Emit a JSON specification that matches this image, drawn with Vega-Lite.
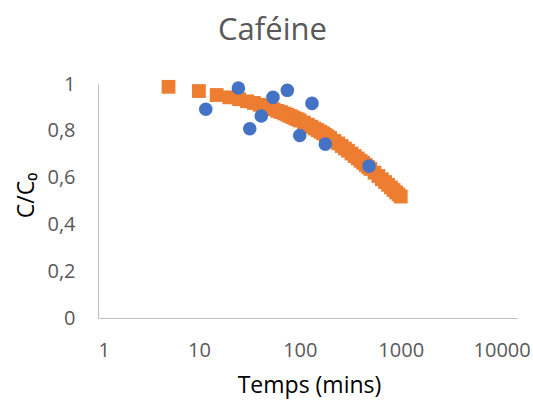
{
  "$schema": "https://vega.github.io/schema/vega-lite/v6.json",
  "width": 419,
  "height": 234,
  "autosize": "none",
  "padding": {"left": 98, "top": 84, "right": 16, "bottom": 87},
  "background": "white",
  "config": {
    "view": {"stroke": null},
    "font": "Open Sans",
    "axis": {
      "grid": false,
      "ticks": false,
      "domainColor": "#BFBFBF",
      "domainWidth": 1,
      "labelColor": "#595959",
      "labelFont": "Open Sans",
      "labelFontSize": 20,
      "titleColor": "#000000",
      "titleFont": "Open Sans",
      "titleFontSize": 23,
      "titleFontWeight": "normal"
    }
  },
  "title": {
    "text": "Caféine",
    "font": "Open Sans",
    "fontSize": 31,
    "fontWeight": "normal",
    "color": "#595959",
    "anchor": "middle",
    "frame": "group",
    "dx": -35,
    "baseline": "alphabetic",
    "offset": 3
  },
  "datasets": {
    "model": [
      {"t": 5, "c": 0.988},
      {"t": 10, "c": 0.970},
      {"t": 15, "c": 0.953},
      {"t": 20, "c": 0.943},
      {"t": 25, "c": 0.935},
      {"t": 30, "c": 0.926},
      {"t": 35, "c": 0.919},
      {"t": 40, "c": 0.911},
      {"t": 45, "c": 0.904},
      {"t": 50, "c": 0.898},
      {"t": 55, "c": 0.892},
      {"t": 60, "c": 0.885},
      {"t": 65, "c": 0.880},
      {"t": 70, "c": 0.874},
      {"t": 75, "c": 0.869},
      {"t": 80, "c": 0.863},
      {"t": 85, "c": 0.858},
      {"t": 90, "c": 0.853},
      {"t": 95, "c": 0.849},
      {"t": 100, "c": 0.844},
      {"t": 110, "c": 0.835},
      {"t": 120, "c": 0.826},
      {"t": 130, "c": 0.818},
      {"t": 140, "c": 0.810},
      {"t": 150, "c": 0.803},
      {"t": 160, "c": 0.796},
      {"t": 170, "c": 0.789},
      {"t": 180, "c": 0.782},
      {"t": 190, "c": 0.775},
      {"t": 200, "c": 0.769},
      {"t": 220, "c": 0.757},
      {"t": 240, "c": 0.746},
      {"t": 260, "c": 0.735},
      {"t": 280, "c": 0.724},
      {"t": 300, "c": 0.715},
      {"t": 325, "c": 0.703},
      {"t": 350, "c": 0.692},
      {"t": 375, "c": 0.682},
      {"t": 400, "c": 0.672},
      {"t": 425, "c": 0.663},
      {"t": 450, "c": 0.654},
      {"t": 475, "c": 0.645},
      {"t": 500, "c": 0.637},
      {"t": 550, "c": 0.621},
      {"t": 600, "c": 0.607},
      {"t": 650, "c": 0.593},
      {"t": 700, "c": 0.581},
      {"t": 750, "c": 0.569},
      {"t": 800, "c": 0.558},
      {"t": 850, "c": 0.547},
      {"t": 900, "c": 0.537},
      {"t": 950, "c": 0.528},
      {"t": 1000, "c": 0.519}
    ],
    "obs": [
      {"t": 11.7, "c": 0.892},
      {"t": 24.6, "c": 0.983},
      {"t": 31.9, "c": 0.809},
      {"t": 41.5, "c": 0.863},
      {"t": 54.2, "c": 0.943},
      {"t": 75.2, "c": 0.973},
      {"t": 99.8, "c": 0.780},
      {"t": 132, "c": 0.917},
      {"t": 179, "c": 0.743},
      {"t": 485, "c": 0.649}
    ]
  },
  "layer": [
    {
      "data": {"name": "model"},
      "mark": {"type": "point", "shape": "square", "filled": true, "size": 190, "color": "#ED7D31", "opacity": 1},
      "encoding": {
        "x": {
          "field": "t", "type": "quantitative",
          "scale": {"type": "log", "domain": [1, 14200], "nice": false},
          "axis": {
            "values": [1, 10, 100, 1000, 10000],
            "format": "d",
            "labelPadding": 22,
            "labelBaseline": "top",
            "title": "Temps (mins)",
            "titleBaseline": "alphabetic",
            "titleY": 74,
            "titleX": 211,
            "titleAnchor": "middle"
          }
        },
        "y": {
          "field": "c", "type": "quantitative",
          "scale": {"domain": [0, 1], "nice": false},
          "axis": {
            "values": [0, 0.2, 0.4, 0.6, 0.8, 1],
            "labelExpr": "replace(format(datum.value, '.1~f'), '.', ',')",
            "labelPadding": 23,
            "title": "C/C₀",
            "titleAngle": -90,
            "titleBaseline": "alphabetic",
            "titleX": -65,
            "titleY": 111,
            "titleAnchor": "middle"
          }
        }
      }
    },
    {
      "data": {"name": "obs"},
      "mark": {"type": "point", "shape": "circle", "filled": true, "size": 185, "color": "#4472C4", "opacity": 1},
      "encoding": {
        "x": {"field": "t", "type": "quantitative"},
        "y": {"field": "c", "type": "quantitative"}
      }
    }
  ]
}
